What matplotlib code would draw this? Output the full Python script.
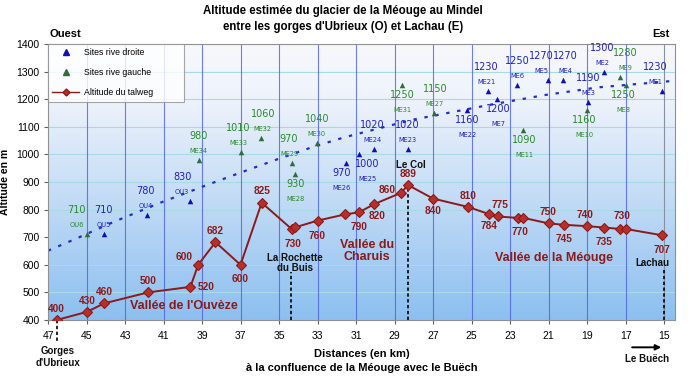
import matplotlib.pyplot as plt
import numpy as np
from matplotlib.colors import LinearSegmentedColormap
from matplotlib.lines import Line2D

plt.rcParams['font.family'] = ['Liberation Sans', 'DejaVu Sans']

# altitude du talweg (km depuis la confluence, m)
talweg_km = [46.55, 44.95, 44.1, 41.8, 39.6, 39.2, 38.3, 37.0, 35.9, 34.35, 34.15,
             33.0, 31.55, 30.85, 30.05, 28.65, 28.3, 27.0, 25.2, 24.1, 23.65, 22.6,
             22.3, 21.0, 20.2, 19.0, 18.1, 17.3, 17.0, 15.1]
talweg_alt = [400, 430, 460, 500, 520, 600, 682, 600, 825, 730, 736,
              760, 783, 790, 820, 861, 889, 840, 810, 784, 775, 770,
              770, 750, 745, 740, 735, 730, 730, 707]
talweg_lbl = ['400', '430', '460', '500', '520', '600', '682', '600', '825', '730', '',
              '760', '', '790', '820', '860', '889', '840', '810', '784', '775', '',
              '770', '750', '745', '740', '735', '', '730', '707']
# label offsets in pixels (dx, dy down)
talweg_off = [(0, -11), (0, -11), (1, -11), (0, -11), (16, 0), (-14, -8), (0, -11), (0, 14),
              (0, -12), (2, 15), (0, 0), (0, 15), (0, 0), (0, 15), (3, 12), (-14, -3),
              (0, -11), (0, 12), (0, -11), (0, 12), (3, -11), (0, 0), (-3, 14), (0, -11),
              (0, 14), (-2, -11), (0, 14), (0, 0), (-3, -13), (0, 15)]

# sites rive droite
rd_name = ['OU5', 'OU4', 'OU3', 'ME26', 'ME25', 'ME24', 'ME23', 'ME22', 'ME21', 'ME7',
           'ME6', 'ME5', 'ME4', 'ME3', 'ME2', 'ME1']
rd_km = [44.1, 41.84, 39.62, 31.54, 30.84, 30.06, 28.32, 25.22, 24.13, 23.66,
         22.62, 21.01, 20.23, 18.93, 18.1, 15.12]
rd_alt = [710, 780, 830, 970, 1000, 1020, 1020, 1160, 1230, 1200,
          1250, 1270, 1270, 1190, 1300, 1230]
rd_pos = ['a', 'a', 'a', 'b', 'b', 'a', 'a', 'b', 'a', 'b', 'a', 'a', 'a', 'a', 'a', 'a']
rd_dx = [0, -2, -8, -4, 8, -2, 0, 0, -2, 1, 0, -7, 2, 0, -2, -6]

# sites rive gauche
rg_name = ['OU6', 'ME34', 'ME33', 'ME32', 'ME29', 'ME28', 'ME30', 'ME31', 'ME27',
           'ME11', 'ME10', 'ME9', 'ME8']
rg_km = [44.95, 39.16, 36.97, 35.95, 34.32, 34.15, 33.04, 28.63, 26.95,
         22.31, 19.02, 17.3, 17.0]
rg_alt = [710, 980, 1010, 1060, 970, 930, 1040, 1250, 1150,
          1090, 1160, 1280, 1250]
rg_pos = ['a', 'a', 'a', 'a', 'a', 'b', 'a', 'b', 'a', 'b', 'b', 'a', 'b']
rg_dx = [-11, 0, -3, 2, -3, 0, 0, 1, 1, 1, -2, 6, -2]

# tendance (pointillés)
trend_km = [47, 45.5, 43.6, 41.2, 38.9, 37.0, 35.1, 33.2, 31.6, 28.1, 24.1, 21.2, 18.4, 14.4]
trend_alt = [651, 696, 755, 824, 885, 934, 982, 1028, 1062, 1125, 1179, 1215, 1243, 1267]

xticks = list(range(47, 14, -2))
yticks = list(range(400, 1401, 100))

RED = '#8b1a1a'
BLUE = '#1f1fc8'
GREEN = '#2a8a2a'
PX = 0.72  # pixels -> points

fig = plt.figure(figsize=(6.9, 3.81), dpi=100)
ax = fig.add_axes([48 / 690, 61 / 381, 627 / 690, 276 / 381])
ax.set_xlim(47, 14.43)
ax.set_ylim(400, 1400)
ax.set_facecolor('none')

# fond dégradé
cmap = LinearSegmentedColormap.from_list('bg', [(0, '#8cbff0'), (0.45, '#c4dcf6'),
                                                (0.8, '#eef3fb'), (1, '#f7f8fb')])
grad = np.linspace(0, 1, 256).reshape(-1, 1)
ax.imshow(grad, extent=[47, 14.43, 400, 1400], origin='lower', aspect='auto',
          cmap=cmap, zorder=0)

for y in yticks[1:-1]:
    ax.axhline(y, color='#a6dbe6', lw=0.8, zorder=1)
for x in xticks[1:-1]:
    ax.axvline(x, color='#4a5ee8', lw=0.8, alpha=0.8, zorder=1)
ax.axvline(15, color='#8890a0', lw=0.8, zorder=1)

for s in ax.spines.values():
    s.set_color('#909090')
    s.set_linewidth(0.8)

ax.set_xticks(xticks)
ax.set_yticks(yticks)
ax.tick_params(labelsize=7.5, length=3, color='#606060', pad=3)
ax.tick_params(axis='x', pad=5)

# pointillés de tendance
ax.plot(trend_km, trend_alt, color='#1f2fc8', lw=1.6, ls=(0, (1.5, 3.5)), zorder=2)

# lignes tiretées noires
ax.plot([28.32, 28.32], [400, 889], color='black', ls=(0, (2, 1.5)), lw=1.2, zorder=2)
ax.plot([34.37, 34.37], [400, 575], color='black', ls=(0, (2, 1.5)), lw=1.2, zorder=2)
ax.plot([15.0, 15.0], [400, 582], color='black', ls=(0, (2, 1.5)), lw=1.2, zorder=2)
ax.plot([46.55, 46.55], [400, 317], color='black', ls=(0, (2, 1.5)), lw=1.2, zorder=2,
        clip_on=False)

# talweg
ax.plot(talweg_km, talweg_alt, color=RED, lw=1.4, marker='D', ms=5.5,
        mfc='#b5302a', mec=RED, mew=0.8, zorder=4)
for x, y, t, (dx, dy) in zip(talweg_km, talweg_alt, talweg_lbl, talweg_off):
    if t:
        ax.annotate(t, (x, y), xytext=(dx * PX, -dy * PX), textcoords='offset points',
                    ha='center', va='center', fontsize=7.3, fontweight='bold', color=RED,
                    zorder=5)


def sites(km, alt, names, pos, dxs, color, tri):
    ax.scatter(km, alt, marker='^', s=16, color=tri, zorder=4, linewidths=0)
    for x, y, n, p, dx in zip(km, alt, names, pos, dxs):
        if p == 'a':
            dv, dn = -24, -9
        else:
            dv, dn = 10, 25
        ax.annotate(f'{y}', (x, y), xytext=(dx * PX, -dv * PX), textcoords='offset points',
                    ha='center', va='center', fontsize=7, color=color,
                    family='DejaVu Sans', zorder=5)
        ax.annotate(n, (x, y), xytext=(dx * PX, -dn * PX), textcoords='offset points',
                    ha='center', va='center', fontsize=4.8, color=color,
                    family='DejaVu Sans', zorder=5)


sites(rd_km, rd_alt, rd_name, rd_pos, rd_dx, BLUE, '#1010b0')
sites(rg_km, rg_alt, rg_name, rg_pos, rg_dx, GREEN, '#2f6e3a')

# textes de zones
ax.text(39.93, 451, "Vallée de l'Ouvèze", ha='center', va='center', fontsize=9,
        fontweight='bold', color=RED, zorder=5)
ax.text(30.44, 650, 'Vallée du\nCharuis', ha='center', va='center', fontsize=9,
        fontweight='bold', color=RED, linespacing=1.1, zorder=5)
ax.text(20.71, 624, 'Vallée de la Méouge', ha='center', va='center', fontsize=9,
        fontweight='bold', color=RED, zorder=5)
ax.text(34.17, 606, 'La Rochette\ndu Buis', ha='center', va='center', fontsize=7,
        fontweight='bold', color='#101010', linespacing=1.05, zorder=5)
ax.text(28.14, 962, 'Le Col', ha='center', va='center', fontsize=7,
        fontweight='bold', color='#101010', zorder=5)
ax.text(15.59, 606, 'Lachau', ha='center', va='center', fontsize=7,
        fontweight='bold', color='#101010', zorder=5)
ax.text(46.5, 267, "Gorges\nd'Ubrieux", ha='center', va='center', fontsize=7,
        fontweight='bold', color='#101010', linespacing=1.3, clip_on=False)
ax.annotate('', xy=(15.0, 301), xytext=(16.8, 301), annotation_clip=False,
            arrowprops=dict(arrowstyle='-|>', color='black', lw=1.4, mutation_scale=8))
ax.text(15.9, 257, 'Le Buëch', ha='center', va='center', fontsize=7,
        fontweight='bold', color='#101010', clip_on=False)

ax.set_ylabel('Altitude en m', fontsize=7.5, fontweight='bold')
ax.yaxis.set_label_coords(-38 / 627, 0.5)
ax.set_xlabel('Distances (en km)\nà la confluence de la Méouge avec le Buëch',
              fontsize=8, fontweight='bold', labelpad=6, linespacing=1.5)

fig.text(343 / 690, 1 - 19 / 381,
         "Altitude estimée du glacier de la Méouge au Mindel\n"
         "entre les gorges d'Ubrieux (O) et Lachau (E)",
         ha='center', va='center', fontsize=8.3, fontweight='bold', linespacing=1.4)
fig.text(49 / 690, 1 - 34 / 381, 'Ouest', ha='left', va='center', fontsize=8,
         fontweight='bold')
fig.text(670 / 690, 1 - 34 / 381, 'Est', ha='right', va='center', fontsize=8,
         fontweight='bold')

handles = [
    Line2D([], [], ls='none', marker='^', color='#1010b0', ms=4),
    Line2D([], [], ls='none', marker='^', color='#2f6e3a', ms=4),
    Line2D([], [], color=RED, lw=1, marker='D', ms=3.5, mfc='#b5302a', mec=RED),
]
leg = ax.legend(handles, ['Sites rive droite', 'Sites rive gauche', 'Altitude du talweg'],
                loc='upper left', bbox_to_anchor=(0, 0, 136 / 627, 1), mode='expand',
                fontsize=6.3, frameon=True, fancybox=False, edgecolor='#909090',
                borderaxespad=0, labelspacing=1.25, handlelength=3, handletextpad=0.6,
                borderpad=0.5)
leg.get_frame().set_linewidth(0.8)
leg.set_zorder(6)

fig.savefig('out.png', dpi=100)
